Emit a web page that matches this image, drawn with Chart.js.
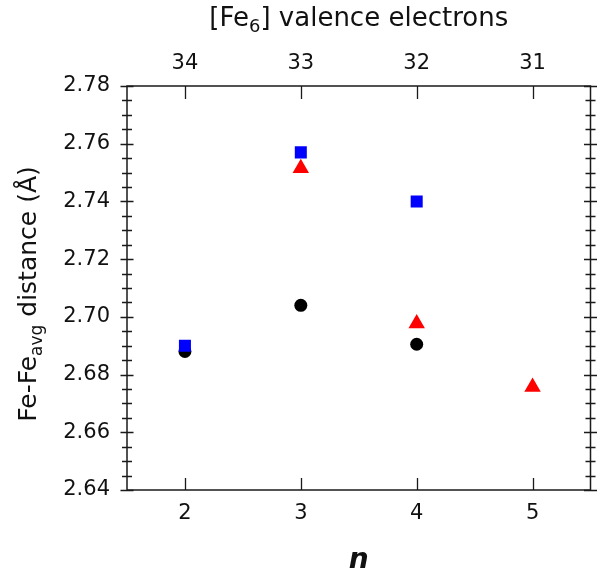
<!DOCTYPE html>
<html>
<head>
<meta charset="utf-8">
<script src="https://cdn.jsdelivr.net/npm/chart.js@4/dist/chart.umd.min.js"></script>
<style>
html,body{margin:0;padding:0;background:#fff;}
#wrap{width:600px;height:571px;position:relative;}
</style>
</head>
<body>
<div id="wrap"><canvas id="c" width="600" height="571"></canvas></div>
<script>
// ---- data ----
const nValues = [2, 3, 4, 5];
const topTickLabels = ['34', '33', '32', '31'];
const yTicks = [2.64, 2.66, 2.68, 2.70, 2.72, 2.74, 2.76, 2.78];

const squareN = [2, 3, 4];
const squareY = [2.690, 2.757, 2.740];
const triangleN = [3, 4, 5];
const triangleY = [2.7515, 2.6977, 2.6757];
const circleN = [2, 3, 4];
const circleY = [2.688, 2.704, 2.6905];

const FONT = '"DejaVu Sans", Verdana, sans-serif';

function pts(xs, ys) { return xs.map((x, i) => ({x: x, y: ys[i]})); }

const framePlugin = {
  id: 'frame',
  afterDraw(chart) {
    const ctx = chart.ctx;
    const a = chart.chartArea;
    const xs = chart.scales.x, ys = chart.scales.y;
    ctx.save();
    ctx.strokeStyle = '#1a1a1a';
    ctx.lineWidth = 1.5;
    ctx.strokeRect(a.left, a.top, a.right - a.left, a.bottom - a.top);
    ctx.lineWidth = 1.3;
    ctx.beginPath();
    nValues.forEach(v => {
      const px = Math.round(xs.getPixelForValue(v)) + 0.5;
      ctx.moveTo(px, a.bottom); ctx.lineTo(px, a.bottom - 12);
      ctx.moveTo(px, a.top); ctx.lineTo(px, a.top + 13);
    });
    const minorStep = 0.005;
    const nMinor = Math.round((ys.max - ys.min) / minorStep);
    for (let i = 0; i <= nMinor; i++) {
      const v = ys.min + i * minorStep;
      const py = Math.round(ys.getPixelForValue(v)) + 0.5;
      const major = i % 4 === 0;
      const o = major ? 6.5 : 5;
      ctx.moveTo(a.left - o, py); ctx.lineTo(a.left + o, py);
      ctx.moveTo(a.right - o, py); ctx.lineTo(a.right + o, py);
    }
    ctx.stroke();

    ctx.fillStyle = '#111';
    const tf = 26, sf = 18;
    ctx.textBaseline = 'alphabetic';
    ctx.textAlign = 'left';
    const parts1 = [['[Fe', tf, 0], ['6', sf, 6], ['] valence electrons', tf, 0]];
    let w = 0;
    parts1.forEach(p => { ctx.font = p[1] + 'px ' + FONT; w += ctx.measureText(p[0]).width; });
    let x = (a.left + a.right) / 2 - w / 2;
    const by = 26;
    parts1.forEach(p => {
      ctx.font = p[1] + 'px ' + FONT;
      ctx.fillText(p[0], x, by + p[2]);
      x += ctx.measureText(p[0]).width;
    });

    const yf = 25, ysf = 17;
    const parts2 = [['Fe-Fe', yf, 0], ['avg', ysf, 6], [' distance (\u00C5)', yf, 0]];
    w = 0;
    parts2.forEach(p => { ctx.font = p[1] + 'px ' + FONT; w += ctx.measureText(p[0]).width; });
    ctx.save();
    ctx.translate(36, (a.top + a.bottom) / 2 + 6);
    ctx.rotate(-Math.PI / 2);
    x = -w / 2;
    parts2.forEach(p => {
      ctx.font = p[1] + 'px ' + FONT;
      ctx.fillText(p[0], x, p[2]);
      x += ctx.measureText(p[0]).width;
    });
    ctx.restore();

    ctx.font = 'italic bold 28px ' + FONT;
    ctx.textAlign = 'center';
    ctx.fillText('n', (a.left + a.right) / 2, 568);
    ctx.restore();
  }
};

const tickFont = {family: FONT, size: 21};

new Chart(document.getElementById('c'), {
  type: 'scatter',
  data: {
    datasets: [
      {label: 'square', data: pts(squareN, squareY), pointStyle: 'rect', pointRadius: 8.5,
       backgroundColor: '#0000ff', borderColor: '#0000ff', borderWidth: 0},
      {label: 'triangle', data: pts(triangleN, triangleY), pointStyle: 'triangle', pointRadius: 9.5,
       backgroundColor: '#ff0000', borderColor: '#ff0000', borderWidth: 0},
      {label: 'circle', data: pts(circleN, circleY), pointStyle: 'circle', pointRadius: 6.5,
       backgroundColor: '#000000', borderColor: '#000000', borderWidth: 0}
    ]
  },
  options: {
    responsive: false,
    animation: false,
    layout: {padding: {left: 0, right: 8, top: 0, bottom: 0}},
    plugins: {legend: {display: false}, tooltip: {enabled: false}},
    scales: {
      x: {
        type: 'linear', position: 'bottom', min: 1.5, max: 5.5,
        afterBuildTicks: s => { s.ticks = nValues.map(v => ({value: v})); },
        afterFit: s => { s.height = 81; },
        grid: {display: false, drawTicks: false},
        border: {display: false},
        ticks: {font: tickFont, color: '#111', padding: 11, callback: v => String(v)}
      },
      x2: {
        type: 'linear', position: 'top', min: 1.5, max: 5.5,
        afterBuildTicks: s => { s.ticks = nValues.map(v => ({value: v})); },
        afterFit: s => { s.height = 86; },
        grid: {display: false, drawTicks: false},
        border: {display: false},
        ticks: {font: tickFont, color: '#111', padding: 10,
          callback: v => topTickLabels[nValues.indexOf(Math.round(v))]}
      },
      y: {
        type: 'linear', position: 'left', min: 2.64, max: 2.78,
        afterBuildTicks: s => { s.ticks = yTicks.map(v => ({value: v})); },
        afterFit: s => { s.width = 127; },
        grid: {display: false, drawTicks: false},
        border: {display: false},
        ticks: {font: tickFont, color: '#111', padding: 17, callback: v => v.toFixed(2)}
      }
    }
  },
  plugins: [framePlugin]
});
</script>
</body>
</html>
